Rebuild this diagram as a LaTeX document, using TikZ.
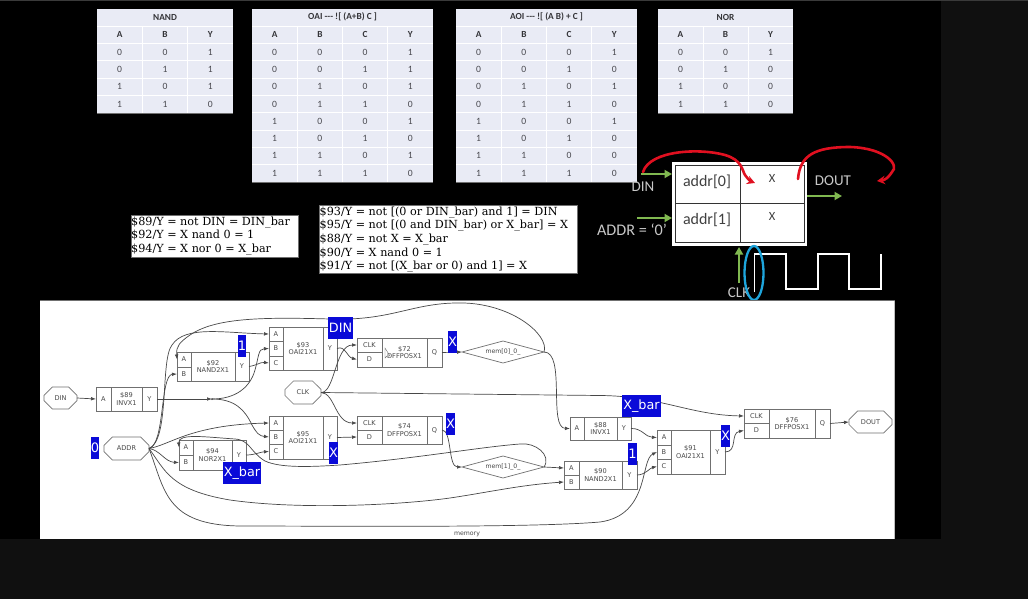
\documentclass[tikz,border=0pt]{standalone}
\usepackage{fontspec}
\usetikzlibrary{arrows.meta,shapes.geometric,shapes.misc}
\setmainfont{Carlito}
\newfontfamily\ser{DejaVu Serif}
\newfontfamily\dvs{DejaVu Sans}
\definecolor{tbl}{HTML}{E9EBF5}
\definecolor{tbltxt}{HTML}{4A4A50}
\definecolor{wire}{HTML}{484848}
\definecolor{blk}{HTML}{707070}
\definecolor{lbl}{HTML}{0A0AD8}
\definecolor{grn}{HTML}{80B850}
\definecolor{redl}{HTML}{E01020}
\definecolor{cyanl}{HTML}{1EA5DC}
\definecolor{botbg}{HTML}{101010}
\definecolor{strip}{HTML}{3A3A3A}
\definecolor{captxt}{HTML}{C8C8C8}
\tikzset{
  x=1pt,y=-1pt,
  cell/.style={draw=blk,line width=.7pt,inner sep=0pt,outer sep=0pt,text=wire,font=\dvs\fontsize{6.6}{7.6}\selectfont,align=center},
  octx/.style={draw=blk,line width=.7pt,chamfered rectangle,chamfered rectangle xsep=5pt,chamfered rectangle ysep=6pt,inner sep=0pt,outer sep=0pt,text=wire,font=\dvs\fontsize{6.6}{7.6}\selectfont},
  dia/.style={draw=blk,line width=.7pt,diamond,aspect=3.7,inner sep=0pt,outer sep=0pt,text=wire,font=\dvs\fontsize{6.2}{7.2}\selectfont},
  wir/.style={draw=wire,line width=.7pt},
  arw/.style={wir,-{Latex[length=5pt,width=3.6pt]}},
  bluel/.style={fill=lbl,text=white,inner sep=0pt,outer sep=0pt,font=\dvs\fontsize{13}{13}\selectfont},
  bluew/.style={bluel,font=\dvs\fontsize{12.8}{13}\selectfont},
  tcell/.style={inner sep=0pt,text=tbltxt,font=\fontsize{9.6}{10}\selectfont},
  thead/.style={inner sep=0pt,text=tbltxt!70!black,font=\bfseries\fontsize{9.3}{10}\selectfont},
  note/.style={font=\ser\fontsize{11.2}{13.6}\selectfont,text=black,inner sep=0pt,align=left,anchor=north west},
  notebox/.style={fill=white,draw=blk,line width=.5pt},
  grar/.style={draw=grn,line width=2.4pt,-{Triangle[length=7.5pt,width=8pt]}},
  redar/.style={draw=redl,line width=2.6pt,line cap=round,-{Stealth[length=8pt,width=8.5pt]}},
  lab/.style={inner sep=0pt,text=captxt,font=\fontsize{15}{16}\selectfont},
}
% \ttable{name}{x}{y}{width}{ncols}{title}{nrowsTotal}{rows}
\newcommand\ttable[8]{%
  \fill[tbl] (#2,#3) rectangle ++(#4,{17.3*#7});
  \draw[blk,line width=.5pt] (#2,{#3+17.3*#7}) -- ++(#4,0);
  \foreach \ii in {1,...,\numexpr#7-1\relax}
    \draw[white,line width=.9pt] (#2,{#3+17.3*\ii}) -- ++(#4,0);
  \foreach \jj in {1,...,\numexpr#5-1\relax}
    \draw[white,line width=.9pt] ({#2+#4*\jj/#5},{#3+17.3}) -- ({#2+#4*\jj/#5},{#3+17.3*#7});
  \node[thead] (#1-t) at ({#2+#4/2},{#3+8}) {#6};
  \foreach \row [count=\r] in {#8}
    \foreach \c [count=\k] in \row {
      \ifnum\r=1
        \node[thead] (#1-\r-\k) at ({#2+#4*(\k-.5)/#5},{#3+17.3*\r+8.5}) {\c};
      \else
        \node[tcell] (#1-\r-\k) at ({#2+#4*(\k-.5)/#5},{#3+17.3*\r+8.5}) {\c};
      \fi
    };
}
% \cell{name}{x1}{y1}{x2}{y2}{text}
\newcommand\cell[6]{\node[cell,minimum width={(#4-#2)*1pt},minimum height={(#5-#3)*1pt}] (#1) at ({(#2+#4)/2},{(#3+#5)/2}) {#6};}
\begin{document}
\begin{tikzpicture}
\useasboundingbox (0,0) rectangle (1028,599);
\fill[botbg] (0,0) rectangle (1028,599);
\fill[black] (0,0) rectangle (941,539);
\fill[strip] (0,0) rectangle (1028,1.5);

% truth tables
\ttable{nand}{97}{9}{136}{3}{NAND}{6}{{A,B,Y},{0,0,1},{0,1,1},{1,0,1},{1,1,0}}
\ttable{oai}{252}{9}{181}{4}{OAI -{}-{}- ![ (A+B) C ]}{10}{{A,B,C,Y},{0,0,0,1},{0,0,1,1},{0,1,0,1},{0,1,1,0},{1,0,0,1},{1,0,1,0},{1,1,0,1},{1,1,1,0}}
\ttable{aoi}{456}{9}{181}{4}{AOI -{}-{}- ![ (A B) + C ]}{10}{{A,B,C,Y},{0,0,0,1},{0,0,1,0},{0,1,0,1},{0,1,1,0},{1,0,0,1},{1,0,1,0},{1,1,0,0},{1,1,1,0}}
\ttable{nor}{658}{9}{135}{3}{NOR}{6}{{A,B,Y},{0,0,1},{0,1,0},{1,0,0},{1,1,0}}

% notes
\fill[notebox] (131,215) rectangle (298,257);
\node[note] (n1) at (131,216.5) {\$89/Y = not DIN = DIN\_bar\\\$92/Y = X nand 0 = 1\\\$94/Y = X nor 0 = X\_bar};
\fill[notebox] (319,205) rectangle (577,273);
\node[note] (n2) at (319.5,206.5) {\$93/Y = not [(0 or DIN\_bar) and 1] = DIN\\\$95/Y = not [(0 and DIN\_bar) or X\_bar] = X\\\$88/Y = not X = X\_bar\\\$90/Y = X nand 0 = 1\\\$91/Y = not [(X\_bar or 0) and 1] = X};

% memory sketch
\fill[white] (672,162) rectangle (807,246);
\draw[black!80,line width=1pt] (675,165) rectangle (804,242);
\draw[black!80,line width=1pt] (740,165) -- (740,242) (675,203) -- (804,203);
\node[inner sep=0pt,text=black!75,font=\fontsize{16}{17}\selectfont] (a0) at (707,182) {addr[0]};
\node[inner sep=0pt,text=black!75,font=\fontsize{16}{17}\selectfont] (a1) at (707,220) {addr[1]};
\node[inner sep=0pt,text=black!75,font=\fontsize{12.5}{13}\selectfont] (x0) at (772,178) {X};
\node[inner sep=0pt,text=black!75,font=\fontsize{12.5}{13}\selectfont] (x1) at (772,216) {X};
\node[lab] (ldin) at (643,187) {DIN};
\node[lab] (ldout) at (833,181) {DOUT};
\node[lab,font=\fontsize{16.2}{17}\selectfont] (laddr) at (632,230) {ADDR = ‘0’};
\node[lab] (lclk) at (739,293) {CLK};
\coordinate (gd1) at (641,174); \coordinate (gd2) at (672,174);
\coordinate (ga1) at (637,218); \coordinate (ga2) at (672,218);
\coordinate (go1) at (807,196); \coordinate (go2) at (842,196);
\coordinate (gc1) at (739,283); \coordinate (gc2) at (739,247);
\draw[grar] (gd1) -- (gd2);
\draw[grar] (ga1) -- (ga2);
\draw[grar] (go1) -- (go2);
\draw[grar] (gc1) -- (gc2);
\draw[white,line width=1.3pt] (754.5,292) -- (754.5,254) -- (786,254) -- (786,289) -- (818,289) -- (818,254) -- (849,254) -- (849,289) -- (881,289) -- (881,254);
\draw[cyanl,line width=2.3pt] (754,273) ellipse [x radius=9.5,y radius=27];
\draw[redar] (643,172) .. controls (650,150) and (700,148) .. (725,155) .. controls (742,160) and (742,170) .. (745,175) .. controls (748,179) and (750,181) .. (755,183);
\draw[redar] (798,179) .. controls (800,155) and (815,147) .. (850,147) .. controls (885,148) and (900,165) .. (892,172) .. controls (888,178) and (885,180) .. (877,181);

% netlist panel
\fill[white] (40,301) rectangle (895,538.5);
\draw[blk,line width=.8pt] (40,300.6) -- (895,300.6);
\draw[black!25,line width=1pt] (894.5,301) -- (894.5,538.5);
\node[inner sep=0pt,text=wire,font=\dvs\fontsize{6.2}{7}\selectfont] (cap) at (467,534) {memory};

\node[octx,minimum width=33pt,minimum height=22pt] (DIN) at (60.5,398) {DIN};
\node[octx,minimum width=45pt,minimum height=23pt,chamfered rectangle xsep=8pt] (ADDR) at (126.5,448.5) {ADDR};
\node[octx,minimum width=36pt,minimum height=23pt] (CLK) at (303,392.5) {CLK};
\node[octx,minimum width=43pt,minimum height=22pt,chamfered rectangle xsep=7pt] (DOUT) at (870.5,422) {DOUT};
\node[dia,minimum width=82pt,minimum height=22pt] (m0) at (503,352) {mem[0]\_0\_};
\node[dia,minimum width=82pt,minimum height=22pt] (m1) at (503,467) {mem[1]\_0\_};

% $89
\cell{g89A}{96}{387}{111}{411}{A}\cell{g89M}{111}{387}{142}{411}{\$89\\INVX1}\cell{g89Y}{142}{387}{157}{411}{Y}
% $92
\cell{g92A}{177}{352}{191}{367}{A}\cell{g92B}{177}{367}{191}{381}{B}\cell{g92M}{191}{352}{235}{381}{\$92\\NAND2X1}\cell{g92Y}{235}{352}{249}{381}{Y}
% $94
\cell{g94A}{179}{440}{193}{455}{A}\cell{g94B}{179}{455}{193}{470}{B}\cell{g94M}{193}{440}{232}{470}{\$94\\NOR2X1}\cell{g94Y}{232}{440}{246}{470}{Y}
% $93
\cell{g93A}{269}{327}{283}{341}{A}\cell{g93B}{269}{341}{283}{356}{B}\cell{g93C}{269}{356}{283}{370}{C}\cell{g93M}{283}{327}{323}{370}{\$93\\OAI21X1}\cell{g93Y}{323}{327}{337}{370}{Y}
% $95
\cell{g95A}{269}{416}{283}{430}{A}\cell{g95B}{269}{430}{283}{444}{B}\cell{g95C}{269}{444}{283}{459}{C}\cell{g95M}{283}{416}{323}{459}{\$95\\AOI21X1}\cell{g95Y}{323}{416}{337}{459}{Y}
% $72
\cell{g72C}{357}{338}{382}{352}{CLK}\cell{g72E}{357}{352}{382}{367}{D}\cell{g72M}{382}{338}{427}{367}{\$72\\DFFPOSX1}\cell{g72Q}{427}{338}{442}{367}{Q}
% $74
\cell{g74C}{357}{416}{382}{430}{CLK}\cell{g74E}{357}{430}{382}{444}{D}\cell{g74M}{382}{416}{427}{444}{\$74\\DFFPOSX1}\cell{g74Q}{427}{416}{442}{444}{Q}
% $88
\cell{g88A}{570}{417}{584}{440}{A}\cell{g88M}{584}{417}{617}{440}{\$88\\INVX1}\cell{g88Y}{617}{417}{631}{440}{Y}
% $90
\cell{g90A}{564}{461}{579}{475}{A}\cell{g90B}{564}{475}{579}{489}{B}\cell{g90M}{579}{461}{622}{489}{\$90\\NAND2X1}\cell{g90Y}{622}{461}{637}{489}{Y}
% $91
\cell{g91A}{657}{430}{671}{445}{A}\cell{g91B}{657}{445}{671}{459}{B}\cell{g91C}{657}{459}{671}{474}{C}\cell{g91M}{671}{430}{710}{474}{\$91\\OAI21X1}\cell{g91Y}{710}{430}{725}{474}{Y}
% $76
\cell{g76C}{744}{409}{769}{423}{CLK}\cell{g76E}{744}{423}{769}{438}{D}\cell{g76M}{769}{409}{815}{438}{\$76\\DFFPOSX1}\cell{g76Q}{815}{409}{830}{438}{Q}

\coordinate (j1) at (212,399);
\fill[wire] (j1) circle (1);

% wires
\draw[arw] (DIN.east) -- (g89A.west);
\draw[arw] (g89Y.east) -- (j1);
\draw[arw] (j1) .. controls (235,399) and (250,388) .. (255,370) .. controls (259,356) and (258,349) .. (g93B.west);
\draw[arw] (j1) .. controls (235,399) and (245,410) .. (252,425) .. controls (257,434) and (260,436) .. (g95B.west);
\draw[arw] (ADDR.east) .. controls (165,445) and (160,375) .. (g92B.west);
\draw[arw] (ADDR.east) .. controls (170,440) and (160,360) .. (172,345) .. controls (185,325) and (225,333) .. (g93A.west);
\draw[arw] (ADDR.east) .. controls (170,445) and (190,425) .. (g95A.west);
\draw[arw] (ADDR.east) .. controls (160,450) and (165,462) .. (g94B.west);
\draw[arw] (ADDR.east) .. controls (165,470) and (170,490) .. (230,500) .. controls (300,510) and (400,505) .. (450,498) .. controls (490,492) and (520,485) .. (g90B.west);
\draw[arw] (ADDR.east) .. controls (165,490) and (165,525) .. (240,526) .. controls (330,526) and (530,528) .. (600,522) .. controls (650,515) and (640,460) .. (g91B.west);
\draw[arw] (g94Y.east) .. controls (255,455) and (260,452) .. (g95C.west);
\draw[arw] (g92Y.east) .. controls (258,365) and (260,362) .. (g93C.west);
\draw[arw] (g93Y.east) .. controls (345,345) and (347,357) .. (g72E.west);
\draw[arw] (CLK.east) .. controls (335,393) and (335,345) .. (g72C.west);
\draw[arw] (CLK.east) .. controls (335,393) and (335,423) .. (g74C.west);
\draw[arw] (CLK.east) -- (600,395.5) .. controls (660,396) and (690,415) .. (g76C.west);
\draw[arw] (g95Y.east) -- (g74E.west);
\draw[arw] (g72Q.east) -- (m0.west);
\draw[arw] (g74Q.east) .. controls (452,430) and (448,467) .. (m1.west);
\draw[arw] (m0.east) .. controls (566,352) and (548,428) .. (g88A.west);
\draw[arw] (m1.east) -- (g90A.west);
\draw[arw] (m0.east) .. controls (550,335) and (510,301) .. (455,303) .. controls (410,304) and (390,321) .. (330,319) .. controls (260,317) and (215,318) .. (190,335) .. controls (180,342) and (176,346) .. (g92A.west);
\draw[arw] (m1.east) .. controls (552,455) and (535,442) .. (520,444) .. controls (480,447) and (420,458) .. (340,465) .. controls (310,467) and (280,468) .. (265,461) .. controls (250,452) and (250,440) .. (235,439) .. controls (205,437) and (178,433) .. (g94A.west);
\draw[arw] (g88Y.east) .. controls (642,428) and (645,437) .. (g91A.west);
\draw[arw] (g90Y.east) .. controls (645,475) and (650,468) .. (g91C.west);
\draw[arw] (g91Y.east) .. controls (738,452) and (730,433) .. (g76E.west);
\draw[arw] (g76Q.east) -- (DOUT.west);

% cursor
\draw[blk,line width=.4pt] (385,348) -- (385,358) -- (387,356) -- (390,356) -- cycle;

% blue labels
\node[bluew,minimum width=25pt,minimum height=21.5pt] (bDIN) at (340.5,328) {DIN};
\node[bluel,minimum width=8.5pt,minimum height=22pt] (b1a) at (242,346) {1};
\node[bluel,minimum width=8.5pt,minimum height=22pt] (b0) at (95,448) {0};
\node[bluew,minimum width=38.5pt,minimum height=22pt] (bXb) at (242,473) {X\_bar};
\node[bluel,minimum width=9pt,minimum height=22pt] (bXa) at (333.5,453) {X};
\node[bluel,minimum width=9pt,minimum height=22pt] (bXc) at (452.5,342) {X};
\node[bluel,minimum width=9pt,minimum height=22pt] (bXd) at (450.5,424) {X};
\node[bluew,minimum width=38.5pt,minimum height=22pt] (bXe) at (641.5,406) {X\_bar};
\node[bluel,minimum width=8.5pt,minimum height=22pt] (b1b) at (632.5,454) {1};
\node[bluel,minimum width=9pt,minimum height=22pt] (bXf) at (725.5,435.5) {X};
\end{tikzpicture}
\end{document}
